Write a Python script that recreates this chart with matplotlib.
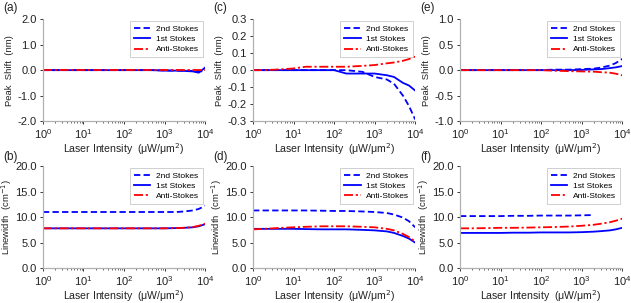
import matplotlib
matplotlib.use("Agg")
import matplotlib.pyplot as plt
from matplotlib.ticker import FormatStrFormatter, LogLocator
import numpy as np

plt.rcParams['font.family'] = ['Liberation Sans', 'DejaVu Sans']

x = [1, 2, 5, 10, 20, 50, 100, 200, 500, 1000, 2000, 3000, 5000, 7000, 10000]

# (a) peak shift
a_2nd = [0, 0, 0, 0, 0, 0, 0, 0, 0, -0.01, -0.02, -0.02, -0.03, -0.04, -0.05]
a_1st = [0, 0, 0, 0, 0, 0, 0, 0, 0, -0.02, -0.02, -0.03, -0.05, -0.10, 0.10]
a_anti = [0, 0, 0, 0, 0, 0, 0, 0, 0, 0, 0, 0, 0, 0, 0]
# (c) peak shift
c_2nd = [0, 0, 0, 0, 0, 0, 0, 0, -0.01, -0.04, -0.055, -0.08, -0.15, -0.21, -0.29]
c_1st = [0, 0, 0, 0, 0, 0, 0, -0.02, -0.02, -0.02, -0.03, -0.04, -0.075, -0.09, -0.12]
c_anti = [0, 0, 0.005, 0.01, 0.02, 0.02, 0.02, 0.02, 0.025, 0.03, 0.04, 0.045, 0.055, 0.065, 0.08]
# (e) peak shift
e_2nd = [0, 0, 0, 0, 0, 0, 0, 0.01, 0.01, 0.02, 0.03, 0.05, 0.09, 0.14, 0.22]
e_1st = [0, 0, 0, 0, 0, 0, 0, 0, 0, 0.005, 0.015, 0.02, 0.04, 0.055, 0.08]
e_anti = [0, 0, 0, 0, 0, 0, 0, -0.01, -0.02, -0.025, -0.03, -0.04, -0.05, -0.07, -0.10]
# (b) linewidth
b_2nd = [11.0, 11.0, 11.0, 11.0, 11.0, 11.0, 11.0, 11.0, 11.0, 11.0, 11.0, 11.1, 11.3, 11.6, 12.2]
b_1st = [7.8, 7.8, 7.8, 7.8, 7.8, 7.8, 7.8, 7.8, 7.8, 7.8, 7.85, 7.9, 8.0, 8.2, 8.6]
b_anti = [7.8, 7.8, 7.8, 7.8, 7.8, 7.8, 7.8, 7.8, 7.8, 7.8, 7.85, 7.9, 8.05, 8.3, 8.7]
# (d) linewidth
d_2nd = [11.3, 11.3, 11.3, 11.3, 11.3, 11.25, 11.2, 11.2, 11.1, 11.0, 10.8, 10.5, 9.9, 9.2, 8.0]
d_1st = [7.7, 7.7, 7.7, 7.7, 7.65, 7.6, 7.6, 7.6, 7.5, 7.4, 7.2, 6.9, 6.3, 5.8, 5.0]
d_anti = [7.6, 7.7, 7.9, 8.0, 8.1, 8.2, 8.2, 8.2, 8.1, 8.0, 7.7, 7.4, 6.7, 6.1, 5.2]
# (f) linewidth
f_x2 = [1, 2, 5, 10, 20, 50, 100, 200, 500, 1000, 2000]
f_2nd = [10.2, 10.2, 10.2, 10.2, 10.25, 10.25, 10.3, 10.3, 10.3, 10.35, 10.4]
f_1st = [6.9, 6.9, 6.9, 6.9, 6.95, 6.95, 7.0, 7.0, 7.0, 7.05, 7.15, 7.25, 7.4, 7.6, 7.9]
f_anti = [7.8, 7.8, 7.85, 7.9, 7.9, 7.95, 8.0, 8.05, 8.15, 8.3, 8.5, 8.7, 9.0, 9.3, 9.7]

labels = ["2nd Stokes", "1st Stokes", "Anti-Stokes"]

fig = plt.figure(figsize=(6.31, 3.03), dpi=100)

lefts = [0.068, 0.401, 0.729]
w = 0.257
top_b, top_h = 0.600, 0.337
bot_b, bot_h = 0.115, 0.337

panels = [
    (0, 0, "(a)", (x, a_2nd), (x, a_1st), (x, a_anti), (-2, 2), [-2, -1, 0, 1, 2], "Peak  Shift  (nm)"),
    (1, 0, "(c)", (x, c_2nd), (x, c_1st), (x, c_anti), (-0.3, 0.3), [-0.3, -0.2, -0.1, 0, 0.1, 0.2, 0.3], "Peak  Shift  (nm)"),
    (2, 0, "(e)", (x, e_2nd), (x, e_1st), (x, e_anti), (-1, 1), [-1, -0.5, 0, 0.5, 1], "Peak  Shift  (nm)"),
    (0, 1, "(b)", (x, b_2nd), (x, b_1st), (x, b_anti), (0, 20), [0, 5, 10, 15, 20], "Linewidth  (cm$^{-1}$)"),
    (1, 1, "(d)", (x, d_2nd), (x, d_1st), (x, d_anti), (0, 20), [0, 5, 10, 15, 20], "Linewidth  (cm$^{-1}$)"),
    (2, 1, "(f)", (f_x2, f_2nd), (x, f_1st), (x, f_anti), (0, 20), [0, 5, 10, 15, 20], "Linewidth  (cm$^{-1}$)"),
]

for col, row, name, s2, s1, sa, ylim, yt, ylab in panels:
    if row == 0:
        ax = fig.add_axes([lefts[col], top_b, w, top_h])
        ty = 0.972
    else:
        ax = fig.add_axes([lefts[col], bot_b, w, bot_h])
        ty = 0.482
    ax.plot(s2[0], s2[1], color='#0000ff', ls=(0, (3.5, 1.8)), lw=1.3, label=labels[0])
    ax.plot(s1[0], s1[1], color='#0000ff', ls='-', lw=1.3, label=labels[1])
    ax.plot(sa[0], sa[1], color='#ff0000', ls=(0, (5, 1.5, 1.2, 1.5)), lw=1.3, label=labels[2])
    ax.set_xscale('log')
    ax.set_xlim(1, 1e4)
    ax.set_ylim(*ylim)
    ax.set_yticks(yt)
    ax.yaxis.set_major_formatter(FormatStrFormatter('%.1f'))
    ax.xaxis.set_major_locator(LogLocator(base=10, numticks=10))
    ax.xaxis.set_minor_locator(LogLocator(base=10, subs=np.arange(2, 10), numticks=20))
    for side in ['top', 'right']:
        ax.spines[side].set_visible(False)
    for side in ['left', 'bottom']:
        ax.spines[side].set_color('#b0b0b0')
        ax.spines[side].set_linewidth(0.9)
    ax.tick_params(axis='both', which='major', labelsize=8, length=2.5, width=0.7, pad=2,
                   colors='#333333', labelcolor='#222222')
    ax.tick_params(axis='x', which='minor', length=1.5, width=0.5, colors='#333333')
    ax.set_ylabel(ylab, fontsize=6.8, color='#222222')
    ax.yaxis.set_label_coords(-0.18, 0.5)
    ax.set_xlabel("Laser Intensity  (μW/μm$^2$)", fontsize=7.6, labelpad=0, color='#222222')
    leg = ax.legend(loc='upper right', fontsize=6, frameon=True, fancybox=False,
                    edgecolor='#c8c8c8', framealpha=1, handlelength=2.0, borderpad=0.45,
                    labelspacing=0.3, handletextpad=0.7, borderaxespad=0.25)
    leg.get_frame().set_linewidth(0.6)
    fig.text(lefts[col] - 0.063, ty, name, fontsize=8.5, va='center', ha='left', color='#222222')

fig.savefig("out.png", dpi=100)
